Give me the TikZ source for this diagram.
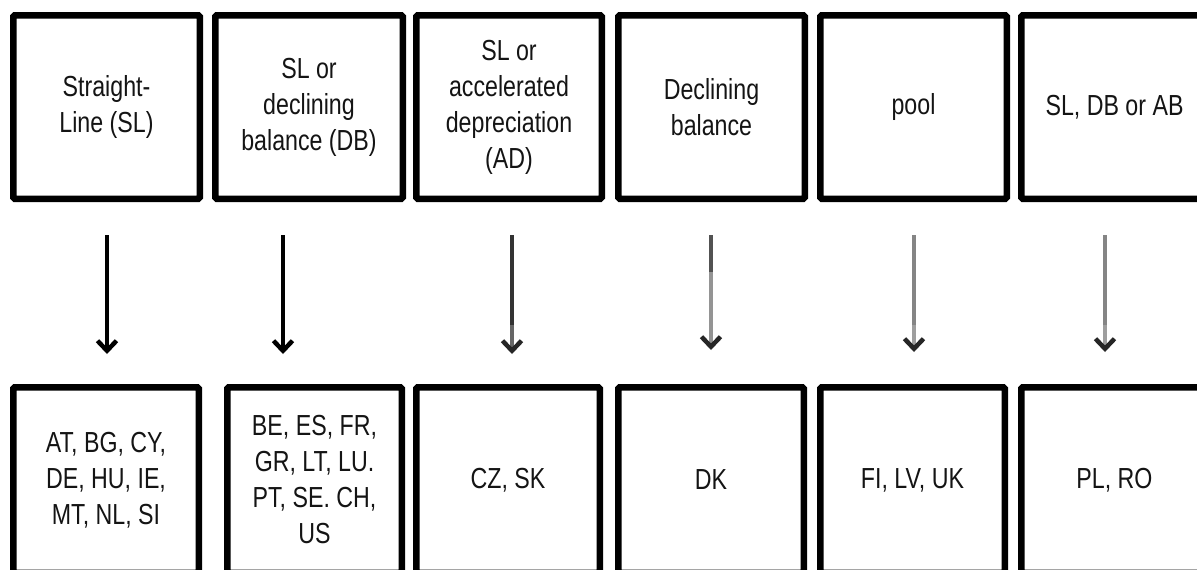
\documentclass[tikz,border=0pt]{standalone}
\usepackage{fontspec}
\setmainfont{Liberation Sans}[FakeStretch=0.8]
\usetikzlibrary{arrows.meta}
\definecolor{txt}{HTML}{141414}
\tikzset{
  box/.style={draw=black, line width=6.5pt, rounded corners=1.5pt, fill=white,
    minimum height=183.5pt, text=txt, align=center,
    font=\fontsize{29}{36}\selectfont, inner sep=0pt},
  dn/.style={line width=4.5pt, -{Straight Barb[length=10pt,width=19pt,line width=4.5pt,color=#1]}},
  dn/.default=black,
  seg/.style={line width=4.5pt}
}
\begin{document}
\begin{tikzpicture}[x=1pt,y=-1pt]
\clip (0,0) rectangle (1197,570);
\fill[white] (0,0) rectangle (1197,570);
% top row
\node[box, minimum width=186.5pt] (t1) at (106.5,107) {Straight-\\Line (SL)};
\node[box, minimum width=187.5pt] (t2) at (309,107) {SL or\\declining\\balance (DB)};
\node[box, minimum width=185.5pt] (t3) at (509,107) {SL or\\accelerated\\depreciation\\(AD)};
\node[box, minimum width=186.5pt] (t4) at (711.5,107) {Declining\\balance};
\node[box, minimum width=186.5pt] (t5) at (913.5,107) {pool};
\node[box, minimum width=186.5pt] (t6) at (1114.5,107) {SL, DB or AB};
% bottom row
\node[box, minimum width=185.5pt, minimum height=185.5pt] (b1) at (106,480) {AT, BG, CY,\\DE, HU, IE,\\MT, NL, SI};
\node[box, minimum width=174.5pt, minimum height=185.5pt] (b2) at (314.5,480) {BE, ES, FR,\\GR, LT, LU.\\PT, SE. CH,\\US};
\node[box, minimum width=183.5pt, minimum height=185.5pt] (b3) at (508,480) {CZ, SK};
\node[box, minimum width=185.5pt, minimum height=185.5pt] (b4) at (711,480) {DK};
\node[box, minimum width=184.5pt, minimum height=185.5pt] (b5) at (912.5,480) {FI, LV, UK};
\node[box, minimum width=186.5pt, minimum height=185.5pt] (b6) at (1114.5,480) {PL, RO};
% arrow ends
\coordinate (s1) at (107,235);  \coordinate (e1) at (107,354);
\coordinate (s2) at (283,235);  \coordinate (e2) at (283,354);
\coordinate (s3) at (512,235);  \coordinate (e3) at (512,354);
\coordinate (s4) at (711,235);  \coordinate (e4) at (711,350);
\coordinate (s5) at (914,235);  \coordinate (e5) at (914,352);
\coordinate (s6) at (1105,235); \coordinate (e6) at (1105,352);
\coordinate (m3) at (512,325);
\coordinate (m4) at (711,272);
\coordinate (m5) at (914,325);
\coordinate (m6) at (1105,325);
% arrows
\draw[dn, black] (s1) -- (e1);
\draw[dn, black] (s2) -- (e2);
\draw[dn=black!85, black!60] (s3) -- (e3);
\draw[seg, black!80] (s3) -- (m3);
\draw[dn=black!85, black!42] (s4) -- (e4);
\draw[seg, black!68] (s4) -- (m4);
\draw[dn=black!85, black!38] (s5) -- (e5);
\draw[seg, black!48] (s5) -- (m5);
\draw[dn=black!85, black!38] (s6) -- (e6);
\draw[seg, black!48] (s6) -- (m6);
\end{tikzpicture}
\end{document}
